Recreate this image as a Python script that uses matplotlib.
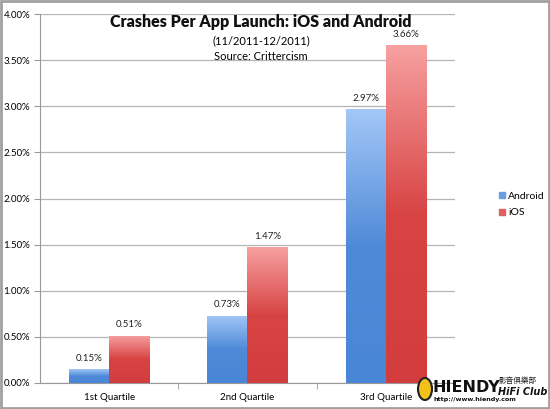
import numpy as np
import matplotlib
matplotlib.use('Agg')
import matplotlib.pyplot as plt
from matplotlib.colors import LinearSegmentedColormap
from matplotlib.patches import Rectangle, Ellipse

# --- Data ---
categories = ['1st Quartile', '2nd Quartile', '3rd Quartile']
android = [0.15, 0.73, 2.97]
ios = [0.51, 1.47, 3.66]
y_ticks = [0.0, 0.5, 1.0, 1.5, 2.0, 2.5, 3.0, 3.5, 4.0]

plt.rcParams['font.family'] = ['Lato', 'DejaVu Sans']

fig = plt.figure(figsize=(5.5, 4.09), dpi=100)
ax = fig.add_axes([0.0727, 0.0636, 0.7545, 0.902])

x = np.arange(len(categories))
w = 0.29
blue_cm = LinearSegmentedColormap.from_list('b', ['#4a86d6', '#4f8ad8', '#a3c7f7'])
red_cm = LinearSegmentedColormap.from_list('r', ['#d23c3c', '#d84444', '#f7a0a0'])

bars_a = ax.bar(x - w / 2, android, w, color='none', edgecolor='none', zorder=3)
bars_i = ax.bar(x + w / 2, ios, w, color='none', edgecolor='none', zorder=3)

# gradient fill clipped to each bar
grad = np.linspace(0, 1, 256).reshape(-1, 1)
for bars, cm in [(bars_a, blue_cm), (bars_i, red_cm)]:
    for b in bars:
        x0, y0 = b.get_x(), b.get_y()
        bw, bh = b.get_width(), b.get_height()
        im = ax.imshow(grad, cmap=cm, origin='lower', aspect='auto',
                       extent=(x0, x0 + bw, y0, y0 + bh), zorder=3)
        im.set_clip_path(b)
        ax.text(x0 + bw / 2, bh + 0.07, f'{bh:.2f}%', ha='center', va='bottom',
                fontsize=7, color='#222222')

ax.set_xlim(-0.5, 2.5)
ax.set_ylim(0, 4.0)
ax.set_yticks(y_ticks)
ax.set_yticklabels([f'{v:.2f}%' for v in y_ticks], fontsize=7)
ax.set_xticks(x)
ax.set_xticklabels(categories, fontsize=7)
ax.set_xticks([0.5, 1.5], minor=True)
ax.tick_params(axis='x', which='major', length=0, pad=7)
ax.tick_params(axis='x', which='minor', length=4, color='#999999')
ax.tick_params(axis='y', length=4, color='#999999', pad=3)
ax.yaxis.grid(True, color='#b5b5b5', linewidth=0.9, zorder=0)
ax.set_axisbelow(True)
for s in ['top', 'right']:
    ax.spines[s].set_visible(False)
for s in ['left', 'bottom']:
    ax.spines[s].set_color('#999999')

# title
fig.text(0.475, 0.945, 'Crashes Per App Launch: iOS and Android', ha='center', va='center',
         fontsize=11.5, fontweight='heavy', color='#111111')
fig.text(0.475, 0.9, '(11/2011-12/2011)', ha='center', va='center', fontsize=8)
fig.text(0.475, 0.862, 'Source: Crittercism', ha='center', va='center', fontsize=8)

# legend
h1 = plt.Line2D([], [], marker='s', ls='', color='#6a9de3', markersize=4.5)
h2 = plt.Line2D([], [], marker='s', ls='', color='#e06060', markersize=4.5)
fig.legend([h1, h2], ['Android', 'iOS'], loc='center left', bbox_to_anchor=(0.89, 0.5),
           frameon=False, fontsize=7.5, handlelength=0.6, handletextpad=0.3, labelspacing=0.7)

# watermark
fig.patches.append(Ellipse((425 / 550, 1 - 389 / 409), 14 / 550, 22 / 409,
                           transform=fig.transFigure, facecolor='#f2c21b',
                           edgecolor='#222222', linewidth=1.5, zorder=10))
fig.text(432 / 550, 1 - 387 / 409, 'HIENDY', fontsize=11.5, fontweight='heavy', ha='left',
         va='center', color='#111111', family=['DejaVu Sans'], zorder=11)
fig.text(499 / 550, 1 - 381 / 409, '影音俱樂部', fontsize=5.5, ha='left', va='center',
         style='italic', family=['Noto Sans CJK TC', 'DejaVu Sans'], color='#222222')
fig.text(498 / 550, 1 - 392 / 409, 'HiFi Club', fontsize=7, fontweight='bold',
         style='italic', ha='left', va='center', color='#111111', family=['DejaVu Sans'])
fig.text(434 / 550, 1 - 400 / 409, 'http://www.hiendy.com', fontsize=4.6, fontweight='bold',
         ha='left', va='center', color='#111111', family=['DejaVu Sans'])

# outer frame
fig.patches.append(Rectangle((0.002, 0.002), 0.996, 0.996, transform=fig.transFigure,
                             fill=False, edgecolor='#a0a0a0', linewidth=2))

fig.savefig('out.png', dpi=100)
